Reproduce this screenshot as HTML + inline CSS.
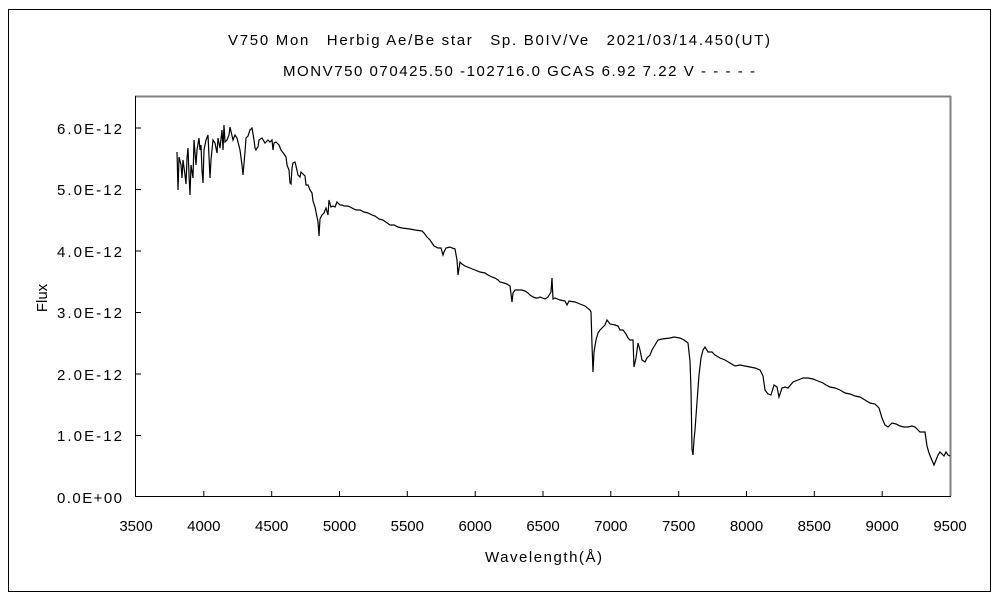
<!DOCTYPE html>
<html><head><meta charset="utf-8"><style>
html,body{margin:0;padding:0;background:#fff;}
svg{display:block;}
text{font-family:"Liberation Sans","Noto Sans CJK JP",sans-serif;font-size:15px;fill:#000;}
</style></head><body>
<svg width="1000" height="600" viewBox="0 0 1000 600" xmlns="http://www.w3.org/2000/svg">
<rect x="8.5" y="9.5" width="982" height="582" fill="none" stroke="#000" stroke-width="1"/>
<text x="228" y="45" textLength="542" lengthAdjust="spacing">V750 Mon　Herbig Ae/Be star　Sp. B0IV/Ve　2021/03/14.450(UT)</text>
<text x="283" y="76" textLength="472" lengthAdjust="spacing">MONV750 070425.50 -102716.0 GCAS 6.92 7.22 V - - - - -</text>
<line x1="135" y1="96.5" x2="951" y2="96.5" stroke="#808080" stroke-width="2"/>
<line x1="950.5" y1="96" x2="950.5" y2="496" stroke="#808080" stroke-width="2"/>
<line x1="135.5" y1="96" x2="135.5" y2="497" stroke="#000"/>
<line x1="135" y1="496.5" x2="951" y2="496.5" stroke="#000"/>
<g stroke="#000">
<line x1="136" y1="128" x2="141" y2="128"/><line x1="136" y1="189.5" x2="141" y2="189.5"/>
<line x1="136" y1="251" x2="141" y2="251"/><line x1="136" y1="312.5" x2="141" y2="312.5"/>
<line x1="136" y1="374" x2="141" y2="374"/><line x1="136" y1="435.5" x2="141" y2="435.5"/>
<line x1="203.8" y1="491" x2="203.8" y2="496"/><line x1="271.7" y1="491" x2="271.7" y2="496"/>
<line x1="339.5" y1="491" x2="339.5" y2="496"/><line x1="407.3" y1="491" x2="407.3" y2="496"/>
<line x1="475.2" y1="491" x2="475.2" y2="496"/><line x1="543" y1="491" x2="543" y2="496"/>
<line x1="610.8" y1="491" x2="610.8" y2="496"/><line x1="678.7" y1="491" x2="678.7" y2="496"/>
<line x1="746.5" y1="491" x2="746.5" y2="496"/><line x1="814.3" y1="491" x2="814.3" y2="496"/>
<line x1="882.2" y1="491" x2="882.2" y2="496"/>
</g>
<g style="font-size:16px">
<text x="57" y="134" textLength="65">6.0E-12</text><text x="57" y="195" textLength="65">5.0E-12</text>
<text x="57" y="257" textLength="65">4.0E-12</text><text x="57" y="318" textLength="65">3.0E-12</text>
<text x="57" y="380" textLength="65">2.0E-12</text><text x="57" y="441" textLength="65">1.0E-12</text>
<text x="57" y="503" textLength="65">0.0E+00</text>
</g>
<g text-anchor="middle" style="font-size:16px">
<text x="136" y="531">3500</text><text x="203.8" y="531">4000</text><text x="271.7" y="531">4500</text>
<text x="339.5" y="531">5000</text><text x="407.3" y="531">5500</text><text x="475.2" y="531">6000</text>
<text x="543" y="531">6500</text><text x="610.8" y="531">7000</text><text x="678.7" y="531">7500</text>
<text x="746.5" y="531">8000</text><text x="814.3" y="531">8500</text><text x="882.2" y="531">9000</text>
<text x="950" y="531">9500</text>
</g>
<text x="485" y="562" textLength="117">Wavelength(Å)</text>
<text x="47" y="298" text-anchor="middle" transform="rotate(-90 47 298)">Flux</text>
<polyline fill="none" stroke="#000" stroke-width="1.2" points="177,152 178,190 179,157 181,165 182,178 183,160 185,175 186,184 187,158 188,148 189,175 190,195 191,165 193,178 194,140 196,165 197,150 199,138 200,150 201,145 202,170 203,183 204,150 206,140 208,135 210,178 211,160 213,140 215,143 217,153 218,138 220,148 222,130 223,150 224,125 225,142 227,140 229,135 230,127 233,140 235,135 237,138 240,150 242,165 243,175 245,152 246,138 248,136 250,130 252,128 254,140 255,148 256,150 257,148 258,147 259,140 262,138 265,143 268,140 270,142 272,140 273,150 274,143 276,142 279,145 281,150 284,154 286,157 287,165 289,170 290,183 291,184 292,168 293,163 295,162 296,166 298,175 300,177 301,172 303,174 305,176 306,185 308,185 310,190 312,193 313,201 315,207 316,212 318,222 319,236 320,219 322,215 324,213 326,208 328,215 329,200 331,207 333,206 335,207 337,202 340,205 342,205 344,206 348,206 352,208 356,210 360,210 364,212 368,213 372,215 375,216 379,219 383,220 390,225 394,225 398,227 402,228 410,229 415,230 422,231 424,233 427,237 430,240 432,243 434,246 436,247 438,248 441,248 443,255 444,252 446,248 450,247 452,248 455,249 457,260 458,275 460,262 462,264 465,266 470,268 475,270 480,272 485,273 488,275 492,277 495,278 498,280 500,282 504,283 507,284 510,286 512,302 513,293 515,290 518,290 522,290 525,291 528,293 530,295 533,297 536,298 538,298 540,297 545,299 548,297 551,292 552,278 553,299 555,298 560,300 565,301 567,305 569,301 575,302 580,304 585,306 590,310 591,312 592,345 593,372 594,352 596,340 598,333 600,330 602,328 605,325 607,320 610,324 615,325 618,326 620,330 623,330 626,334 628,338 630,340 633,340 634,367 636,358 638,343 640,350 642,360 645,362 647,358 650,355 652,350 655,345 658,340 662,339 670,338 674,337 680,338 684,340 688,343 690,361 691,390 692,449 693,455 694,440 695,430 697,402 699,375 701,358 703,350 705,347 708,352 712,352 715,355 720,358 725,360 730,363 735,366 740,365 745,366 750,367 755,368 760,370 763,376 765,390 768,394 771,395 774,385 777,387 779,397 782,388 785,387 788,388 793,382 798,380 803,378 808,378 813,379 818,381 823,383 826,385 830,387 835,388 840,390 845,393 850,394 855,396 860,397 865,400 870,403 875,404 879,408 882,418 885,425 888,427 892,423 896,424 900,426 904,427 908,427 912,426 915,427 918,430 920,432 925,432 927,446 929,453 931,458 934,465 936,460 938,455 940,452 942,454 944,456 946,452 948,455 950,456"/>
</svg>
</body></html>
